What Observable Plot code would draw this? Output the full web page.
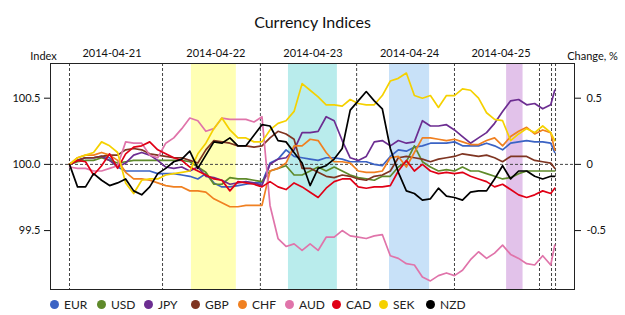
<!DOCTYPE html>
<html><head><meta charset="utf-8">
<script src="https://cdn.jsdelivr.net/npm/d3@7"></script>
<script src="https://cdn.jsdelivr.net/npm/@observablehq/plot@0.6"></script>
<style>
body{margin:0;background:#fff;font-family:Lato,"Open Sans",sans-serif;}
#wrap{width:625px;height:315px;overflow:hidden;background:#fff}
#title{height:28px;padding-top:8px;line-height:28px;text-align:center;font-size:16px;color:#111}
#legend{height:22px;display:flex;padding-left:50px;align-items:center;font-size:12px;color:#222}
#legend .it{width:47px;display:flex;align-items:center;white-space:nowrap}
#legend .dot{width:9px;height:9px;border-radius:50%;margin-right:5px;flex:none}
</style></head><body>
<div id="wrap">
<div id="title">Currency Indices</div>
<div id="chart"></div>
<div id="legend"></div>
</div>
<script>
const currencies = ["EUR","USD","JPY","GBP","CHF","AUD","CAD","SEK","NZD"];
const colors = ["#3b63c4","#5f8a2b","#6c2d91","#7f3522","#f08021","#e074aa","#e00016","#f5d100","#000000"];
// hours since 2014-04-21 00:00
const hours = [0,2,4,6,8,10,12,14,16,18,20,22,24,26,28,30,32,34,36,38,40,42,44,46,48,50,52,54,56,58,60,62,64,66,68,70,72,74,76,78,80,82,84,86,88,90,92,94,96,98,100,102,104,106,108,110,112,114,116,118,120,121];
// change, %
const EUR = [0,0.03,0.05,0.05,0.06,0.05,-0.02,-0.05,-0.05,-0.05, -0.05,-0.07,-0.07,-0.07,-0.08,-0.09,-0.11,-0.07,-0.14,-0.17, -0.17,-0.16,-0.15,-0.14,-0.14,0.01,0.04,0.11,0.06,0.05, 0.04,0.03,0.05,0.05,0.04,0.02,0.02,0.02,0.00,-0.01, 0.06,0.11,0.10,0.13,0.14,0.16,0.16,0.16,0.17,0.14, 0.14,0.14,0.16,0.14,0.11,0.16,0.17,0.18,0.17,0.17, 0.16,0.09];
const USD = [0,0.02,0.03,0.03,0.05,0.03,0.01,0.02,0.03,0.03, 0.03,0.03,0.03,0.03,0.03,0.02,-0.02,-0.06,-0.15,-0.15, -0.10,-0.11,-0.11,-0.12,-0.13,-0.05,-0.03,-0.01,-0.08,-0.08, -0.05,-0.02,-0.05,-0.02,-0.05,-0.08,-0.10,-0.11,-0.12,-0.09, -0.09,-0.02,0.02,0.14,0.02,-0.02,-0.05,-0.04,-0.05,-0.02, -0.05,-0.05,-0.07,-0.09,-0.11,-0.10,-0.07,-0.05,-0.05,-0.05, -0.05,-0.05];
const JPY = [0,0.03,0.05,0.05,0.06,0.03,-0.02,0.01,0.07,0.09, 0.07,0.03,-0.02,-0.03,-0.02,-0.05,-0.02,-0.09,-0.10,-0.12, -0.15,-0.14,-0.13,-0.14,-0.16,0.00,0.04,0.05,0.11,0.24, 0.24,0.25,0.36,0.33,0.18,0.05,0.03,0.06,0.17,0.18, 0.14,0.18,0.16,0.17,0.33,0.29,0.29,0.30,0.26,0.21, 0.16,0.20,0.24,0.31,0.40,0.48,0.49,0.45,0.46,0.42, 0.45,0.56];
const GBP = [0,0.03,0.05,0.05,0.06,0.07,0.07,0.11,0.12,0.11, 0.08,0.07,0.06,0.05,0.05,0.03,0.01,0.11,0.18,0.17, 0.16,0.14,0.14,0.13,0.14,0.20,0.25,0.23,0.19,-0.03, -0.03,-0.06,-0.09,-0.10,-0.08,-0.09,-0.11,-0.12,-0.09,-0.08, -0.05,0.05,0.06,0.05,0.04,0.02,0.04,0.05,0.06,0.08, 0.07,0.06,0.07,0.05,0.02,0.06,0.06,0.06,0.03,0.02, 0.01,-0.03];
const CHF = [0,0.05,0.07,0.07,0.09,0.07,0.03,-0.06,-0.11,-0.11, -0.12,-0.14,-0.16,-0.17,-0.17,-0.20,-0.20,-0.21,-0.26,-0.29, -0.32,-0.32,-0.31,-0.31,-0.31,-0.05,-0.03,0.01,0.14,0.14, 0.19,0.18,0.09,0.02,0.02,0.01,-0.05,-0.06,-0.06,-0.05, 0.05,0.06,-0.02,0.09,0.20,0.20,0.19,0.18,0.19,0.17, 0.15,0.15,0.18,0.20,0.14,0.21,0.25,0.28,0.23,0.26, 0.24,0.11];
const AUD = [-0.02,-0.03,-0.03,-0.05,-0.05,-0.03,-0.01,0.17,0.16,0.16, 0.07,0.05,0.16,0.20,0.27,0.35,0.33,0.25,0.27,0.35, 0.34,0.34,0.34,0.32,0.36,-0.31,-0.56,-0.62,-0.60,-0.65, -0.60,-0.65,-0.55,-0.55,-0.50,-0.54,-0.55,-0.56,-0.54,-0.53, -0.69,-0.71,-0.75,-0.76,-0.85,-0.88,-0.84,-0.82,-0.84,-0.80, -0.72,-0.66,-0.71,-0.67,-0.61,-0.68,-0.71,-0.75,-0.76,-0.69, -0.76,-0.61];
const CAD = [0,0.03,0.02,-0.08,-0.01,0.08,-0.03,0.08,0.13,0.14, 0.17,0.11,0.08,0.05,0.03,-0.02,-0.05,-0.08,-0.11,-0.12, -0.20,-0.13,-0.14,-0.15,-0.17,-0.13,-0.17,-0.19,-0.14,-0.17, -0.21,-0.25,-0.18,-0.13,-0.11,-0.11,-0.17,-0.18,-0.17,-0.17, -0.16,-0.05,0.03,-0.05,0.00,-0.05,-0.07,-0.06,-0.07,-0.06, -0.09,-0.11,-0.13,-0.17,-0.15,-0.19,-0.23,-0.25,-0.23,-0.20, -0.22,-0.18];
const SEK = [0,0.05,0.07,0.09,0.17,0.14,0.09,-0.14,-0.22,-0.12, -0.11,-0.11,-0.08,-0.07,-0.06,-0.05,0.08,0.16,0.27,0.35, 0.26,0.20,0.20,0.17,0.17,0.26,0.31,0.33,0.40,0.61, 0.56,0.51,0.45,0.45,0.44,0.49,0.46,0.45,0.45,0.52, 0.63,0.65,0.69,0.52,0.50,0.52,0.43,0.52,0.52,0.57, 0.56,0.50,0.39,0.34,0.33,0.18,0.23,0.27,0.24,0.29, 0.24,0.18];
const NZD = [0,-0.17,-0.17,-0.07,-0.12,-0.16,-0.14,-0.11,-0.20,-0.23, -0.17,-0.07,-0.03,0.02,0.04,0.10,-0.03,0.07,0.17,0.16, 0.20,0.14,0.14,0.22,0.30,0.29,0.18,0.17,0.09,0.01, -0.16,-0.03,-0.01,0.04,0.12,0.41,0.48,0.55,0.48,0.42, 0.12,-0.06,-0.20,-0.22,-0.27,-0.26,-0.18,-0.24,-0.25,-0.27, -0.21,-0.20,-0.20,-0.11,-0.01,-0.11,-0.05,-0.05,-0.09,-0.11, -0.09,-0.09];
const series = [EUR,USD,JPY,GBP,CHF,AUD,CAD,SEK,NZD];

const dateLabels = ["2014-04-21","2014-04-22","2014-04-23","2014-04-24","2014-04-25"];
const dateLabelHours = [10.6,36.5,60.7,84.8,107.6];
const dividerHours = [0,23.2,47.6,71.6,96,117.2,120.2,121.2];
const bandStart = [30.4,54.6,79.8,109.0];
const bandEnd = [41.6,66.8,89.8,113.1];
const bandColors = ["#ffffb4","#b9ecec","#c8e1f8","#e2c2ea"];
const yTicks = [-0.5,0,0.5];

const long = currencies.flatMap((c,k) => hours.map((h,i) => ({cur:c, h, v:series[k][i]})));
const font = "Lato,'Open Sans',sans-serif";

const chart = Plot.plot({
  width: 625, height: 257,
  marginTop: 27, marginBottom: 4, marginLeft: 50, marginRight: 51,
  style: {fontFamily: font, fontSize: "11px", color: "#111", background: "#fff"},
  x: {domain: [-4.74, 125.93], axis: null},
  y: {domain: [-0.945, 0.762], axis: null},
  color: {domain: currencies, range: colors},
  marks: [
    ...bandStart.map((s,i) => Plot.rect([{s, e: bandEnd[i]}], {x1: "s", x2: "e", fill: bandColors[i]})),
    Plot.ruleY([0], {stroke: "#444", strokeDasharray: "3,2"}),
    Plot.ruleX(dividerHours, {stroke: "#444", strokeDasharray: "3,2"}),
    Plot.line(long, {x: "h", y: "v", z: "cur", stroke: "cur", strokeWidth: 1.7, strokeLinejoin: "round"}),
    Plot.axisY({anchor: "left", ticks: yTicks, tickFormat: d => (100 + d).toFixed(1), tickSize: 6, tickPadding: 4, label: null}),
    Plot.axisY({anchor: "right", ticks: yTicks, tickFormat: d => String(d), tickSize: 6, tickPadding: 6, label: null}),
    Plot.axisX({anchor: "top", ticks: dateLabelHours, tickFormat: d => dateLabels[dateLabelHours.indexOf(d)], tickSize: 0, tickPadding: 7, label: null}),
    Plot.frame({stroke: "#222"}),
    Plot.text(["Index"], {frameAnchor: "top-left", dx: -7, dy: -11, textAnchor: "middle", fontSize: 11}),
    Plot.text(["Change, %"], {frameAnchor: "top-right", dx: 18, dy: -11, textAnchor: "middle", fontSize: 11})
  ]
});
document.getElementById("chart").appendChild(chart);

const leg = document.getElementById("legend");
currencies.forEach((c,i) => {
  const it = document.createElement("div"); it.className = "it";
  const d = document.createElement("span"); d.className = "dot"; d.style.background = colors[i];
  const t = document.createElement("span"); t.textContent = c;
  it.appendChild(d); it.appendChild(t); leg.appendChild(it);
});
</script>
</body></html>
